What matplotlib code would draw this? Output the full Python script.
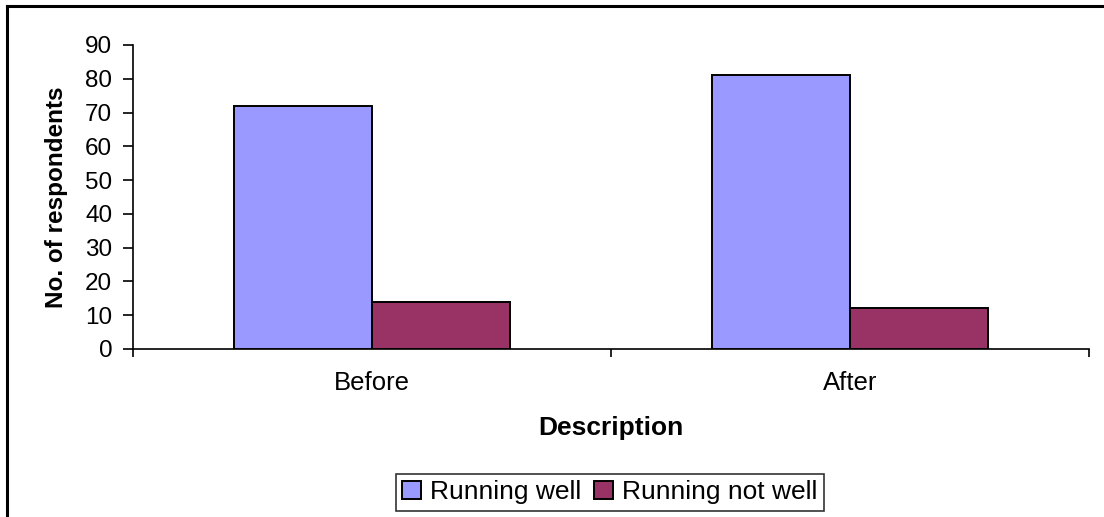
import numpy as np
import matplotlib
matplotlib.use('Agg')
import matplotlib.pyplot as plt
from matplotlib.lines import Line2D

# Respondent counts per period
categories = ['Before', 'After']
running_well = [72, 81]
running_not_well = [14, 12]
series_names = ['Running well', 'Running not well']
series_colors = ['#9999FF', '#993366']

plt.rcParams['font.family'] = ['Liberation Sans', 'DejaVu Sans']

fig = plt.figure(figsize=(11.04, 5.17), dpi=100)
ax = fig.add_axes([0.1205, 0.325, 0.8659, 0.588])

x = np.arange(len(categories))
bar_w = 0.288
ax.bar(x - bar_w / 2, running_well, bar_w, color=series_colors[0],
       edgecolor='black', linewidth=1.4, label=series_names[0], zorder=3)
ax.bar(x + bar_w / 2, running_not_well, bar_w, color=series_colors[1],
       edgecolor='black', linewidth=1.4, label=series_names[1], zorder=3)

ax.set_xlim(-0.5, len(categories) - 0.5)
ax.set_ylim(0, 90)
ax.set_yticks(np.arange(0, 91, 10))

# category labels in the middle, tick marks on the category boundaries
ax.set_xticks(x)
ax.set_xticklabels(categories)
ax.set_xticks(np.arange(-0.5, len(categories), 1.0), minor=True)
ax.tick_params(axis='x', which='major', length=0, pad=16, labelsize=18.5)
ax.tick_params(axis='x', which='minor', length=6, width=1.2, direction='out')
ax.tick_params(axis='y', length=7, width=1.2, direction='out', pad=8, labelsize=17.5)

for side in ['top', 'right']:
    ax.spines[side].set_visible(False)
for side in ['left', 'bottom']:
    ax.spines[side].set_linewidth(1.2)
    ax.spines[side].set_color('black')

ax.set_xlabel('Description', fontsize=19, fontweight='bold', labelpad=15)
ax.set_ylabel('No. of respondents', fontsize=17.5, fontweight='bold', labelpad=12)

leg = ax.legend(loc='center', bbox_to_anchor=(0.5525, 0.048), bbox_transform=fig.transFigure,
                ncol=2, fontsize=19, frameon=True, fancybox=False, edgecolor='black',
                handlelength=0.7, handleheight=0.7, handletextpad=0.35,
                columnspacing=0.5, borderpad=0.25, borderaxespad=0)
leg.get_frame().set_linewidth(1.2)

# outer chart frame (left and top edges)
fig.add_artist(Line2D([7 / 1104, 7 / 1104], [0, 1 - 6 / 517], color='black', linewidth=2.2))
fig.add_artist(Line2D([7 / 1104, 1], [1 - 6 / 517, 1 - 6 / 517], color='black', linewidth=2.2))

fig.savefig('out.png', dpi=100)
